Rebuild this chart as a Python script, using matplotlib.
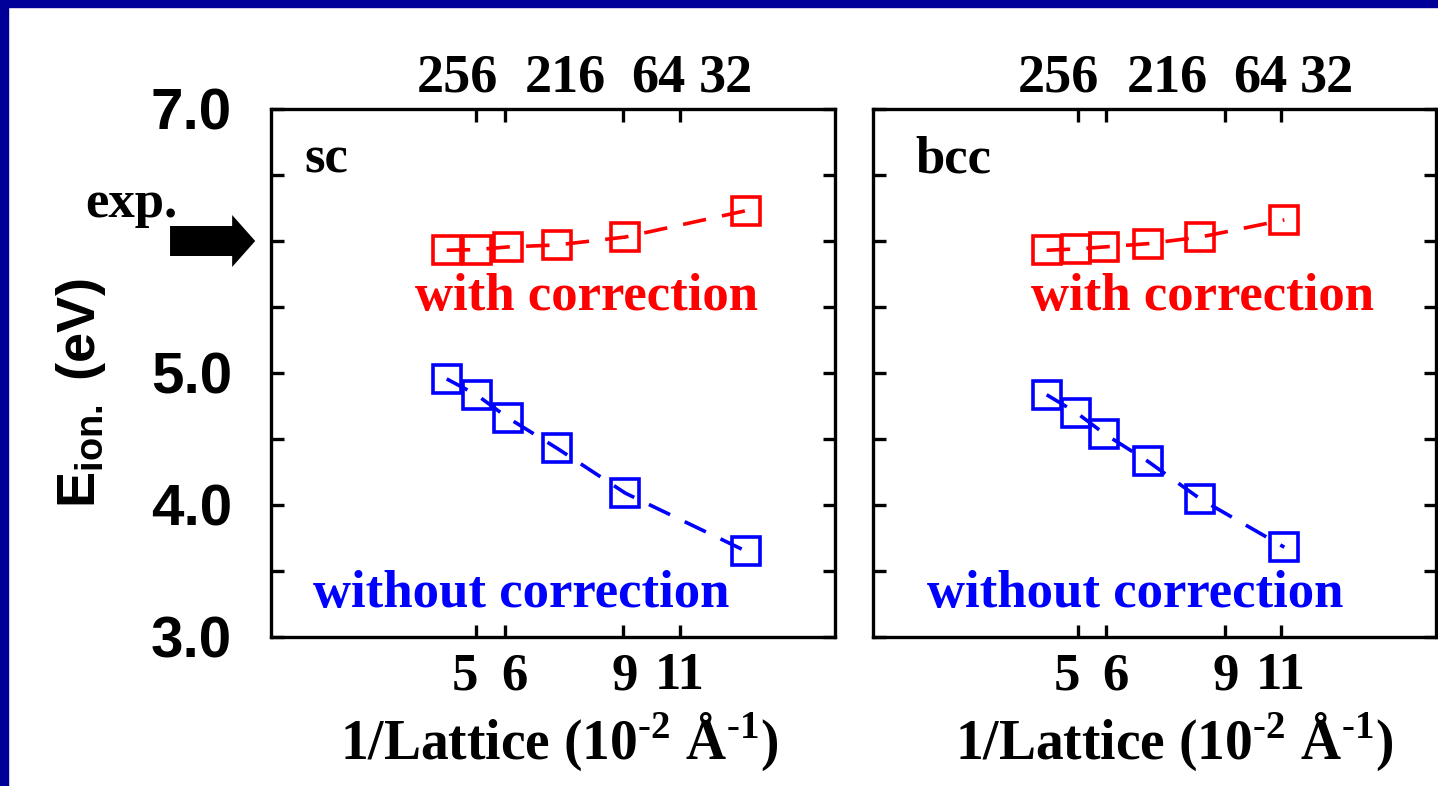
import matplotlib
matplotlib.use('Agg')
import matplotlib.pyplot as plt
import matplotlib.transforms as mtransforms
from matplotlib.patches import Rectangle

plt.rcParams['mathtext.fontset'] = 'custom'
plt.rcParams['mathtext.bf'] = 'Liberation Serif:bold'
plt.rcParams['mathtext.rm'] = 'Liberation Serif:bold'
plt.rcParams['mathtext.sf'] = 'Liberation Sans:bold'

SERIF = 'Liberation Serif'
SANS = 'Liberation Sans'

# ---- data: ionization energy vs inverse supercell lattice (10^-2 1/A) ----
sc_inv_lattice = [4.2, 5.05, 5.95, 7.35, 9.3, 12.75]
sc_with_corr = [5.93, 5.935, 5.955, 5.97, 6.03, 6.23]
sc_without_corr = [4.955, 4.835, 4.66, 4.43, 4.09, 3.65]

bcc_inv_lattice = [4.15, 5.0, 5.8, 7.05, 8.55, 10.95]
bcc_with_corr = [5.93, 5.94, 5.955, 5.98, 6.03, 6.16]
bcc_without_corr = [4.835, 4.70, 4.54, 4.33, 4.045, 3.68]

exp_value = 6.0

x_limits = (-0.82, 15.29)
y_limits = (3.0, 7.0)
x_tick_pos = [5.04, 5.86, 9.24, 10.86]
bottom_label_pos = [4.73, 6.12, 9.27, 10.85]
bottom_labels = ['5', '6', '9', '11']
top_label_pos = [4.5, 7.6, 10.25, 12.17]
top_labels = ['256', '216', '64', '32']
y_ticks = [3.0, 3.5, 4.0, 4.5, 5.0, 5.5, 6.0, 6.5, 7.0]
y_tick_labels = ['3.0', '', '4.0', '', '5.0', '', '', '', '7.0']

RED = '#ff0000'
BLUE = '#0000ff'
NAVY = '#000099'

W, H = 1438, 786
fig = plt.figure(figsize=(W / 100, H / 100), dpi=100)
fig.patch.set_facecolor('white')

# slide frame
fig.add_artist(Rectangle((0, 1 - 7 / H), 1, 7 / H, transform=fig.transFigure,
                         color=NAVY, zorder=10))
fig.add_artist(Rectangle((0, 0), 8 / W, 1, transform=fig.transFigure,
                         color=NAVY, zorder=10))

ax_bottom = (H - 637) / H
ax_height = 528 / H
ax_sc = fig.add_axes([271 / W, ax_bottom, 564 / W, ax_height])
ax_bcc = fig.add_axes([873 / W, ax_bottom, 563 / W, ax_height])

LW = 2.4
tick_kw = dict(direction='in', length=9, width=LW, color='black')


def style_panel(ax, show_ylabels):
    ax.set_xlim(*x_limits)
    ax.set_ylim(*y_limits)
    for sp in ax.spines.values():
        sp.set_linewidth(LW)
    ax.set_yticks(y_ticks)
    if show_ylabels:
        ax.set_yticklabels(y_tick_labels, fontfamily=SANS, fontweight='bold',
                           fontsize=42)
    else:
        ax.set_yticklabels([])
    ax.tick_params(axis='y', which='major', left=True, right=True, pad=28,
                   **tick_kw)
    # bottom ticks and their labels
    ax.set_xticks(x_tick_pos)
    ax.set_xticklabels([])
    ax.set_xticks(bottom_label_pos, minor=True)
    ax.set_xticklabels(bottom_labels, minor=True, fontfamily=SERIF,
                       fontweight='bold', fontsize=38)
    ax.tick_params(axis='x', which='major', bottom=True, top=False, **tick_kw)
    ax.tick_params(axis='x', which='minor', length=0, pad=11)
    # top ticks with supercell sizes
    top = ax.twiny()
    top.set_xlim(*x_limits)
    for sp in top.spines.values():
        sp.set_visible(False)
    top.set_xticks(x_tick_pos)
    top.set_xticklabels([])
    top.set_xticks(top_label_pos, minor=True)
    top.set_xticklabels(top_labels, minor=True, fontfamily=SERIF,
                        fontweight='bold', fontsize=39)
    top.tick_params(axis='x', which='major', top=True, **tick_kw)
    top.tick_params(axis='x', which='minor', length=0, pad=4)


def draw_series(ax, x, y, color):
    ax.plot(x, y, color=color, lw=2.6, dashes=(6.5, 4.5), marker='s',
            markersize=20.5, markerfacecolor='none', markeredgecolor=color,
            markeredgewidth=2.6, clip_on=False, zorder=3)


style_panel(ax_sc, True)
style_panel(ax_bcc, False)

draw_series(ax_sc, sc_inv_lattice, sc_with_corr, RED)
draw_series(ax_sc, sc_inv_lattice, sc_without_corr, BLUE)
draw_series(ax_bcc, bcc_inv_lattice, bcc_with_corr, RED)
draw_series(ax_bcc, bcc_inv_lattice, bcc_without_corr, BLUE)

txt_kw = dict(fontfamily=SERIF, fontweight='bold', fontsize=38, va='baseline')
ax_sc.text(0.06, 0.88, 'sc', transform=ax_sc.transAxes, ha='left', **txt_kw)
ax_bcc.text(0.075, 0.88, 'bcc', transform=ax_bcc.transAxes, ha='left', **txt_kw)
ax_sc.text(0.56, 0.619, 'with correction', transform=ax_sc.transAxes,
           ha='center', color=RED, **txt_kw)
ax_sc.text(0.443, 0.057, 'without correction', transform=ax_sc.transAxes,
           ha='center', color=BLUE, **txt_kw)
ax_bcc.text(0.586, 0.619, 'with correction', transform=ax_bcc.transAxes,
            ha='center', color=RED, **txt_kw)
ax_bcc.text(0.465, 0.057, 'without correction', transform=ax_bcc.transAxes,
            ha='center', color=BLUE, **txt_kw)

xlabel = '1/Lattice (10$^{\\mathbf{\u20102}}$ Å$^{\\mathbf{\u20101}}$)'
for ax, xc in ((ax_sc, 0.511), (ax_bcc, 0.535)):
    ax.set_xlabel(xlabel, fontfamily=SERIF, fontweight='bold', fontsize=40)
    ax.xaxis.set_label_coords(xc, -0.140)

ax_sc.set_ylabel(r'$\mathsf{E}_{\mathsf{ion.}}$ (eV)', fontfamily=SANS,
                 fontweight='bold', fontsize=39, va='center', ha='center')
ax_sc.yaxis.set_label_coords(-0.337, 0.462)

# experimental value marker
blend = mtransforms.blended_transform_factory(ax_sc.transAxes, ax_sc.transData)
ax_sc.annotate('', xy=(-0.028, exp_value), xytext=(-0.179, exp_value),
               xycoords=blend, textcoords=blend, annotation_clip=False,
               arrowprops=dict(arrowstyle='simple,head_length=1.66,'
                               'head_width=3.74,tail_width=2.16',
                               fc='black', ec='black', lw=0,
                               mutation_scale=10, shrinkA=0, shrinkB=0))
ax_sc.text(-0.33, exp_value + 0.18, 'exp.', transform=blend, ha='left',
           **txt_kw)

fig.savefig('out.png', dpi=100, facecolor='white')
